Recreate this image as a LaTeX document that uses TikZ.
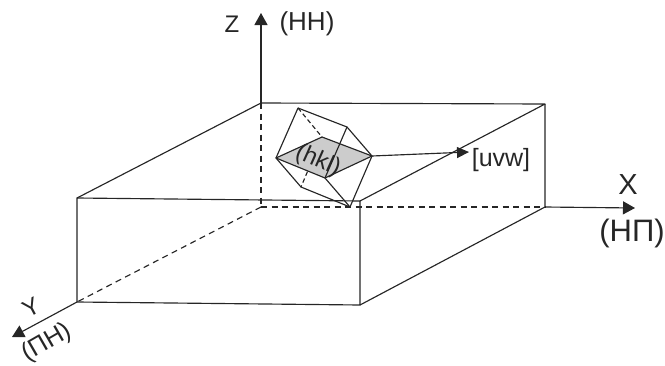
\documentclass[tikz,border=0pt]{standalone}
\usepackage{fontspec}
\setmainfont{Liberation Sans}
\usetikzlibrary{arrows.meta}
\tikzset{
  edge/.style={draw=black!85,line width=1.15pt,line join=round},
  hid/.style={edge,dash pattern=on 6pt off 4.5pt},
  axis/.style={edge,-{Triangle[length=12pt,width=13pt]}},
  lab/.style={inner sep=0pt,text=black!85},
}
\begin{document}
\begin{tikzpicture}[x=1pt,y=-1pt]
\useasboundingbox (0,0) rectangle (665,365);
% box
\coordinate (tbl) at (261,103);
\coordinate (tbr) at (545,104);
\coordinate (tfl) at (77,198);
\coordinate (tfr) at (360,201);
\coordinate (bbl) at (261,207);
\coordinate (bbr) at (545,207);
\coordinate (bfl) at (77,302);
\coordinate (bfr) at (360,305);
\coordinate (zt) at (261,13);
\coordinate (xt) at (635,208);
\coordinate (yt) at (12,337);
% cube
\coordinate (A) at (298,108);
\coordinate (B) at (347,127);
\coordinate (C) at (372,156);
\coordinate (D) at (350,207);
\coordinate (E) at (325,178);
\coordinate (F) at (276,158);
\coordinate (G) at (301,187);
\coordinate (H) at (322,137);
\coordinate (U) at (469,152);
\draw[edge] (tfl) -- (tbl) -- (tbr) -- (tfr);
\draw[edge] (tfl) -- (tfr) -- (bfr) -- (bfl) -- cycle;
\draw[edge] (tbr) -- (bbr) -- (bfr);
\draw[hid] (tbl) -- (bbl);
\draw[hid] (bbl) -- (bbr);
\draw[hid] (bbl) -- (bfl);
\draw[axis] (tbl) -- (zt);
\draw[axis] (bbr) -- (xt);
\draw[axis] (bfl) -- (yt);
% cube faces
\draw[hid,dash pattern=on 4.5pt off 3pt] (A) -- (H);
\draw[hid,dash pattern=on 4.5pt off 3pt] (H) -- (G);
\draw[edge,fill=black!20] (F) -- (H) -- (C) -- (E) -- cycle;
\draw[edge] (F) -- (A) -- (B) -- (C) -- (D) -- (G) -- (F);
\draw[edge] (B) -- (E) -- (D);
\draw[edge,-{Triangle[length=12pt,width=11pt]}] (C) -- (U);
% labels
\node[lab,font=\fontsize{24}{24}\selectfont] (zl) at (232,24) {Z};
\node[lab,font=\fontsize{26}{26}\selectfont] (hh) at (307,24) {(НН)};
\node[lab,font=\fontsize{29}{29}\selectfont] (xl) at (628,185) {X};
\node[lab,font=\fontsize{31}{31}\selectfont] (np) at (632,233) {(НП)};
\node[lab,font=\fontsize{24}{24}\selectfont,rotate=28] (yl) at (31,307) {Y};
\node[lab,font=\fontsize{25}{25}\selectfont,rotate=30] (pn) at (47,343) {(ПН)};
\node[lab,font=\fontsize{25}{25}\selectfont] (uvw) at (501,160) {[uvw]};
\node[lab,font=\fontsize{24}{24}\selectfont,rotate=-24] (hkl) at (318,161) {(hkl)};
\end{tikzpicture}
\end{document}
